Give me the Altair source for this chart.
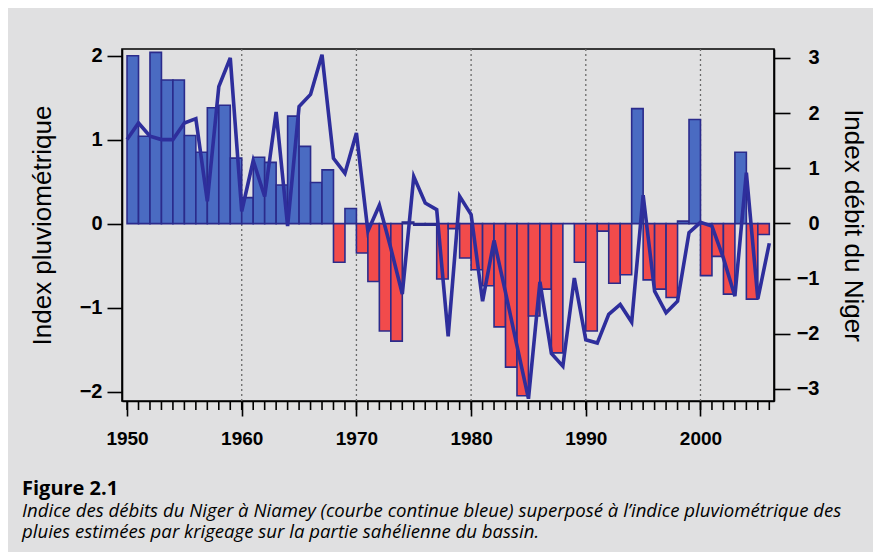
import altair as alt
import pandas as pd

# ---- data ----
bar_years = list(range(1950, 2006))
rain_index = [2.00, 1.04, 2.04, 1.71, 1.71, 1.05, 0.85, 1.38, 1.41, 0.78,
              0.31, 0.79, 0.73, 0.46, 1.28, 0.92, 0.49, 0.64, -0.46, 0.18,
              -0.35, -0.69, -1.28, -1.40, 0.02, -0.02, -0.02, -0.66, -0.06, -0.41,
              -0.55, -0.74, -1.23, -1.71, -2.05, -1.10, -0.78, -1.54, 0.00, -0.46,
              -1.28, -0.09, -0.71, -0.61, 1.37, -0.67, -0.78, -0.88, 0.03, 1.24,
              -0.62, -0.39, -0.84, 0.85, -0.90, -0.13]

flow_years = list(range(1950, 2007))
flow_index = [1.52, 1.82, 1.58, 1.52, 1.52, 1.82, 1.90, 0.40, 2.48, 3.00,
              0.22, 1.14, 0.49, 2.02, -0.05, 2.12, 2.34, 3.06, 1.18, 0.91,
              1.64, -0.14, 0.33, -0.45, -1.28, 0.85, 0.37, 0.25, -2.05, 0.49,
              0.16, -1.41, -0.31, -1.25, -2.22, -3.18, -1.06, -2.36, -2.59, -0.99,
              -2.11, -2.17, -1.65, -1.47, -1.79, 0.51, -1.23, -1.62, -1.41, -0.17,
              0.02, -0.05, -0.63, -1.32, 0.92, -1.37, -0.36]

decade_labels = [1950, 1960, 1970, 1980, 1990, 2000]
grid_years = [1960, 1970, 1980, 1990, 2000]
minor_years = list(range(1950, 2007))
left_ticks = [-2, -1, 0, 1, 2]
right_ticks = [-3, -2, -1, 0, 1, 2, 3]

caption_title = "Figure 2.1"
caption_line1 = "Indice des débits du Niger à Niamey (courbe continue bleue) superposé à l\u2019indice pluviométrique des"
caption_line2 = "pluies estimées par krigeage sur la partie sahélienne du bassin."

# ---- styles ----
BG = "#e0e0e1"
BLUE = "#4a6bc2"
RED = "#f24b4b"
EDGE = "#2b2b8c"
LINE = "#2e2e9c"
AXFONT = "Liberation Sans"
CAPFONT = "Open Sans"

W, H = 652, 352

bars_df = pd.DataFrame({
    "year": bar_years,
    "end": [y + 1 for y in bar_years],
    "rain": rain_index,
    "base": [0.0] * len(bar_years),
})
flow_df = pd.DataFrame({"year": flow_years, "flow": flow_index})
grid_df = pd.DataFrame({"year": grid_years})
minor_df = pd.DataFrame({"year": minor_years})

xscale = alt.Scale(domain=[1949.56, 2006.41], nice=False, zero=False)

grid = alt.Chart(grid_df).mark_rule(
    strokeDash=[2, 3], color="#6a6a6a", strokeWidth=1.3
).encode(x=alt.X("year:Q", scale=xscale, title=None))

bars = alt.Chart(bars_df).mark_rect(stroke=EDGE, strokeWidth=1.6).encode(
    x=alt.X("year:Q", scale=xscale, axis=alt.Axis(
        values=decade_labels, format="d", tickSize=15, tickWidth=1.6, tickColor="black",
        domainColor="black", domainWidth=1.6, labelPadding=13,
        labelFont=AXFONT, labelFontSize=19, labelFontWeight="bold", labelColor="black",
        grid=False, title=None, labelFlush=False)),
    x2="end:Q",
    y=alt.Y("rain:Q", scale=alt.Scale(domain=[-2.113, 2.08], nice=False, zero=False),
            axis=alt.Axis(orient="left", values=left_ticks, tickSize=15, tickWidth=1.6,
                          tickColor="black", domainColor="black", domainWidth=1.6,
                          labelPadding=5, labelFont=AXFONT, labelFontSize=20,
                          labelFontWeight="bold", labelColor="black", grid=False,
                          title="Index pluviométrique", titleFont=AXFONT, titleFontSize=26,
                          titleFontWeight="normal", titleColor="black", titlePadding=24)),
    y2="base:Q",
    fill=alt.condition("datum.rain >= 0", alt.value(BLUE), alt.value(RED)),
)

line = alt.Chart(flow_df).mark_line(color=LINE, strokeWidth=3.6, strokeJoin="miter").encode(
    x=alt.X("year:Q", scale=xscale, title=None),
    y=alt.Y("flow:Q", scale=alt.Scale(domain=[-3.221, 3.163], nice=False, zero=False),
            axis=alt.Axis(orient="right", values=right_ticks, tickSize=16, tickWidth=1.6,
                          tickColor="black", domainColor="black", domainWidth=1.6,
                          labelAlign="right", labelPadding=29, labelFont=AXFONT,
                          labelFontSize=20, labelFontWeight="bold", labelColor="black",
                          grid=False, title="Index débit du Niger", titleFont=AXFONT,
                          titleFontSize=26, titleFontWeight="normal", titleColor="black",
                          titlePadding=20)),
)

minor = alt.Chart(minor_df).mark_rule(color="black", strokeWidth=1.6).encode(
    x=alt.X("year:Q", scale=xscale, title=None),
    y=alt.value(H + 1),
    y2=alt.value(H + 9),
)


def caption(text, y, **style):
    return alt.Chart(pd.DataFrame({"t": [text]})).mark_text(
        align="left", baseline="alphabetic", font=CAPFONT, color="black", **style
    ).encode(x=alt.value(-100), y=alt.value(y), text="t:N")


cap_title = caption(caption_title, 446, fontSize=20, fontWeight="bold")
cap_l1 = caption(caption_line1, 468, fontSize=18.6, fontStyle="italic")
cap_l2 = caption(caption_line2, 489, fontSize=18.6, fontStyle="italic")

chart = alt.layer(grid, bars, line, minor, cap_title, cap_l1, cap_l2).resolve_scale(
    y="independent"
).properties(
    width=W, height=H,
    autosize=alt.AutoSizeParams(type="none"),
    padding={"left": 114, "top": 41, "right": 881 - 16 - 114 - W, "bottom": 560 - 16 - 41 - H},
    background=BG,
).configure_view(stroke="black", strokeWidth=1.6)

chart.save("out.html", embed_options={"renderer": "svg", "actions": False})
